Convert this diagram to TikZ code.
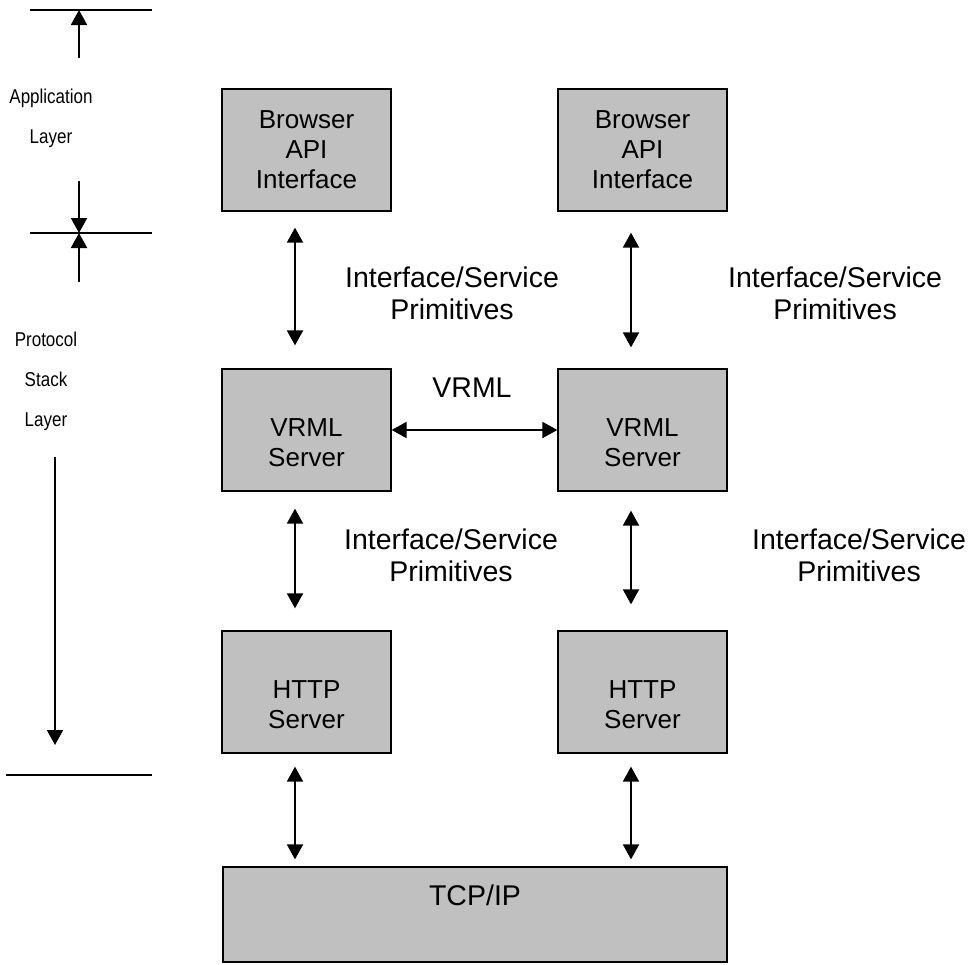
\documentclass[tikz,border=0pt]{standalone}
\usepackage{fontspec}
\setmainfont{Liberation Sans}
\usetikzlibrary{arrows.meta,positioning}
\definecolor{boxgray}{RGB}{192,192,192}
\newcommand{\droptext}{\rule{0pt}{43pt}}

\begin{document}
\begin{tikzpicture}[x=1pt, y=-1pt, node distance=336pt, on grid,
gbox/.style={draw, line width=1.3pt, fill=boxgray, inner sep=0pt},
box/.style={gbox, minimum width=169pt, minimum height=122pt, align=center,
font=\fontsize{26}{30}\selectfont},
lbl/.style={align=center, font=\fontsize{28.5}{32}\selectfont},
side/.style={align=center, font=\fontsize{20}{40}\selectfont, xscale=0.85, transform shape},
dbl/.style={{Triangle[width=16pt,length=15pt]}-{Triangle[width=16pt,length=15pt]}, line width=2pt},
sgl/.style={-{Triangle[width=16pt,length=15pt]}, line width=2pt},
tickline/.style={line width=1.5pt}]
\useasboundingbox (0,0) rectangle (971,964);

\node [box] (api_l) at (306.5,150) {Browser\\API\\Interface};
\node [box] (api_r) [right=of api_l] {Browser\\API\\Interface};
\node [box] (vrml_l) [below=280pt of api_l] {\droptext VRML\\Server};
\node [box] (vrml_r) [right=of vrml_l] {\droptext VRML\\Server};
\node [box] (http_l) [below=262pt of vrml_l] {\droptext HTTP\\Server};
\node [box] (http_r) [right=of http_l] {\droptext HTTP\\Server};
\node [gbox, minimum width=504pt, minimum height=95pt, font=\fontsize{28.5}{32}\selectfont,
text height=21pt, text depth=40pt] (tcp) at (475,914.5) {TCP/IP};

\node [lbl] (isp_1) at (452,293) {Interface/Service\\Primitives};
\node [lbl] (isp_2) at (835,293) {Interface/Service\\Primitives};
\node [lbl] (isp_3) at (451,555) {Interface/Service\\Primitives};
\node [lbl] (isp_4) at (859,555) {Interface/Service\\Primitives};
\node [lbl] (vrml_lbl) at (472,388) {VRML};

\draw [dbl, shorten <=16pt, shorten >=23pt] ([xshift=-11.5pt]api_l.south) -- ([xshift=-11.5pt]vrml_l.north);
\draw [dbl, shorten <=21pt, shorten >=21pt] ([xshift=-11.5pt]api_r.south) -- ([xshift=-11.5pt]vrml_r.north);
\draw [dbl] (vrml_l) -- (vrml_r);
\draw [dbl, shorten <=17pt, shorten >=22pt] ([xshift=-11.5pt]vrml_l.south) -- ([xshift=-11.5pt]http_l.north);
\draw [dbl, shorten <=19pt, shorten >=26pt] ([xshift=-11.5pt]vrml_r.south) -- ([xshift=-11.5pt]http_r.north);
\draw [dbl, shorten <=13pt, shorten >=7pt] ([xshift=-11.5pt]http_l.south) -- ([xshift=-11.5pt]http_l.south |- tcp.north);
\draw [dbl, shorten <=13pt, shorten >=7pt] ([xshift=-11.5pt]http_r.south) -- ([xshift=-11.5pt]http_r.south |- tcp.north);

\node [side] (app_layer) at (51,118) {Application\\Layer};
\node [side] (stack_layer) at (46,381) {Protocol\\Stack\\Layer};
\coordinate (app_top) at (79,10);
\coordinate (app_bot) at (79,233);
\coordinate (stack_bot) at (55,775);
\draw [tickline] (30,10) -- (152,10);
\draw [tickline] (30,233) -- (152,233);
\draw [tickline] (6,775) -- (152,775);
\draw [sgl] (79,58) -- (app_top);
\draw [sgl] (79,181) -- (app_bot);
\draw [sgl] (79,282) -- (app_bot);
\draw [sgl] (55,457) -- (55,745);
\end{tikzpicture}
\end{document}
